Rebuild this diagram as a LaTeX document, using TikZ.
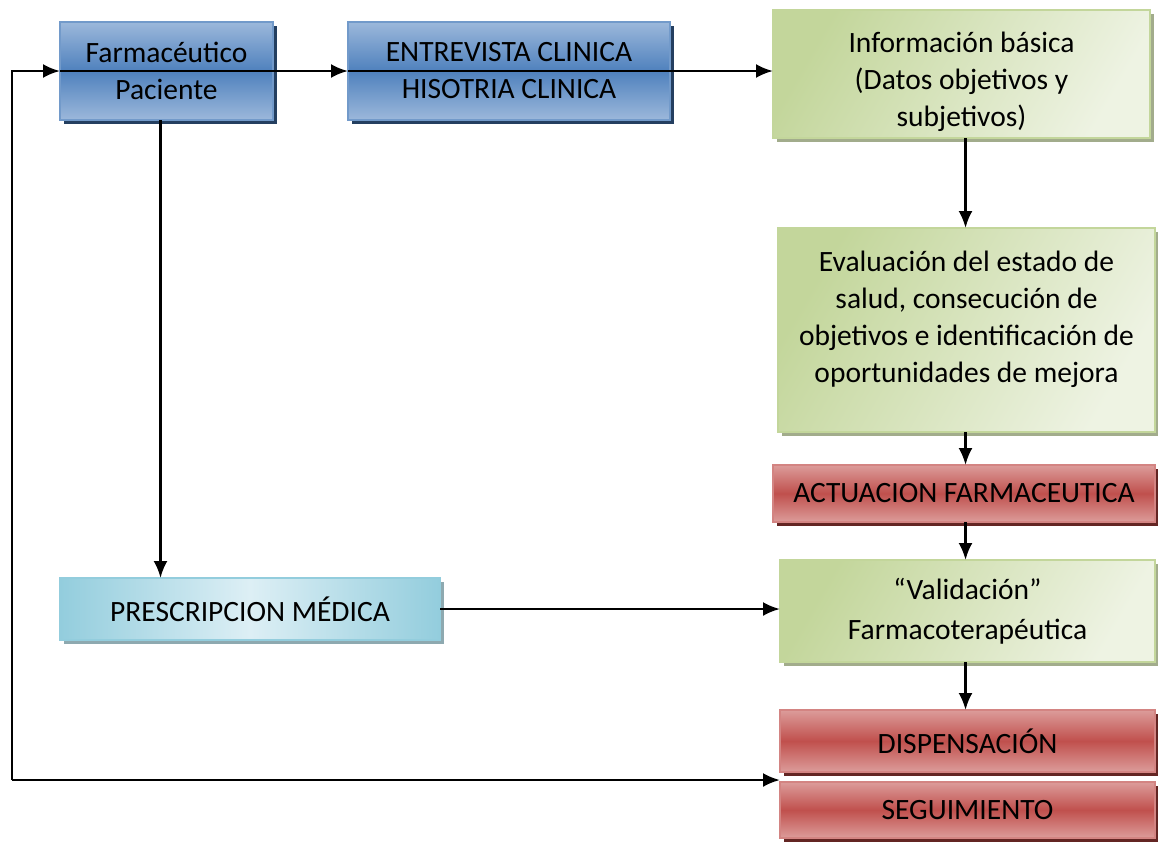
\documentclass[tikz,border=0pt]{standalone}
\usepackage{fontspec}
\setmainfont{Carlito}
\usepackage{tikz}
\usetikzlibrary{arrows.meta, positioning, shadows}
\definecolor{bluemid}{HTML}{4F81BD}
\definecolor{bluelite}{HTML}{9CB8DB}
\definecolor{blueshade}{HTML}{243F60}
\definecolor{greendark}{HTML}{C3D69B}
\definecolor{greenlite}{HTML}{EEF3E3}
\definecolor{greenshade}{HTML}{A2AC8C}
\definecolor{redmid}{HTML}{C0504D}
\definecolor{redlite}{HTML}{DC9C9A}
\definecolor{redshade}{HTML}{632523}
\definecolor{cyandark}{HTML}{93CDDD}
\definecolor{cyanlite}{HTML}{DDEFF5}
\definecolor{cyanshade}{HTML}{8EA9B0}

\begin{document}
\begin{tikzpicture}[
    x=1pt, y=-1pt,
    box/.style={rectangle, draw, line width=1.5pt, inner sep=2pt, outer sep=0pt,
        align=center, font=\fontsize{29.5}{37}\selectfont},
    bluebox/.style={box, draw=bluemid!80, top color=bluelite, bottom color=bluelite, middle color=bluemid,
        drop shadow={shadow xshift=4pt, shadow yshift=-4pt, fill=blueshade, opacity=1}},
    greenbox/.style={box, draw=greendark, left color=greendark, right color=greenlite, shading angle=60,
        drop shadow={shadow xshift=4pt, shadow yshift=-4pt, fill=greenshade, opacity=1}},
    redbox/.style={box, draw=redmid!70, top color=redlite, bottom color=redlite, middle color=redmid,
        drop shadow={shadow xshift=4pt, shadow yshift=-4pt, fill=redshade, opacity=1}},
    cyanbox/.style={box, draw=cyandark, left color=cyandark, right color=cyandark, middle color=cyanlite,
        drop shadow={shadow xshift=4pt, shadow yshift=-4pt, fill=cyanshade, opacity=1}},
    arrow/.style={-{Latex[length=17pt, width=14pt]}, line width=2.6pt}
]
    \useasboundingbox (0,0) rectangle (1158,841);

    % Top row
    \node[bluebox, minimum width=213pt, minimum height=98pt] (farma) at (166.5, 71) {Farmacéutico\\Paciente};
    \node[bluebox, minimum width=322pt, minimum height=98pt] (entrev) at (509, 71) {ENTREVISTA CLINICA\\HISOTRIA CLINICA};
    \node[greenbox, minimum width=377pt, minimum height=128pt] (info) at (961.5, 74) {\rule{0pt}{36pt}Información básica\\(Datos objetivos y\\subjetivos)};

    % Right column
    \node[greenbox, minimum width=377pt, minimum height=204pt] (evalua) at (966.5, 330) {Evaluación del estado de\\salud, consecución de\\objetivos e identificación de\\oportunidades de mejora\\[-11pt]};
    \node[redbox, minimum width=382pt, minimum height=57pt] (actua) at (964, 493.5) {ACTUACION FARMACEUTICA};
    \node[greenbox, minimum width=375pt, minimum height=102pt] (valida) at (967.5, 611) {“Validación”\\[3pt]Farmacoterapéutica};
    \node[redbox, minimum width=375pt, minimum height=62pt] (dispen) at (967.5, 741) {DISPENSACIÓN};
    \node[redbox, minimum width=375pt, minimum height=56pt] (segui) at (967.5, 810) {SEGUIMIENTO};

    % Left
    \node[cyanbox, minimum width=380pt, minimum height=62pt] (prescr) at (250, 609) {PRESCRIPCION MÉDICA};

    % Loop back
    \coordinate (loopc) at (12, 780);
    \coordinate (seguin) at ([yshift=2pt]segui.north west);

    % Arrows
    \draw[arrow] (loopc) -- (loopc |- farma.west) -- (farma.west);
    \draw[arrow] (farma.west) -- (entrev.west);
    \draw[arrow] (entrev.west) -- (entrev.west -| info.west);
    \draw[arrow] ([xshift=-6pt]farma.south) -- ([xshift=-6pt]farma.south |- prescr.north);
    \draw[arrow] ([xshift=4pt]info.south) -- ([xshift=4pt]info.south |- evalua.north);
    \draw[arrow] ([xshift=4pt]evalua.south -| info.south) -- ([xshift=4pt]info.south |- actua.north);
    \draw[arrow] ([xshift=4pt]actua.south -| info.south) -- ([xshift=4pt]info.south |- valida.north);
    \draw[arrow] ([xshift=4pt]valida.south -| info.south) -- ([xshift=4pt]info.south |- dispen.north);
    \draw[arrow] (prescr.east) -- (prescr.east -| valida.west);
    \draw[arrow] (loopc) -- (seguin);
\end{tikzpicture}
\end{document}
